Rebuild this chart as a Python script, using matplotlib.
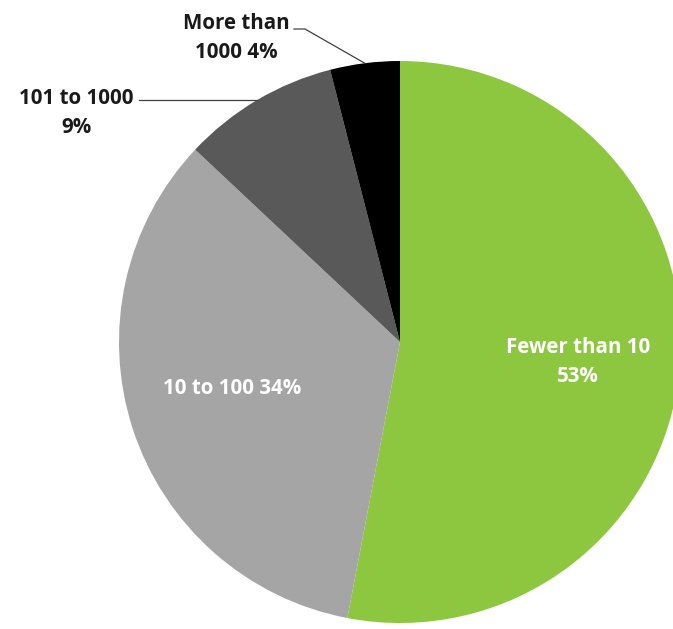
import numpy as np
import matplotlib.pyplot as plt

categories = ['Fewer than 10', '10 to 100', '101 to 1000', 'More than\n1000']
shares = [53, 34, 9, 4]
colors = ['#8DC63F', '#A5A5A5', '#595959', '#000000']

plt.rcParams['font.family'] = ['Open Sans', 'DejaVu Sans']

W, H = 673, 629
fig = plt.figure(figsize=(W / 100, H / 100), dpi=100)
ax = fig.add_axes([0, 0, 1, 1])

cx, cy, r = 400, H - 342, 281
wedges, _ = ax.pie(shares, colors=colors, startangle=90, counterclock=False,
                   center=(cx, cy), radius=r, frame=True,
                   wedgeprops=dict(linewidth=0))
ax.set_xlim(0, W)
ax.set_ylim(0, H)
ax.set_aspect('equal')
ax.axis('off')

fs = 14.8
ls = 1.55
# labels inside
ax.text(578, H - 362, f'{categories[0]}\n{shares[0]}%', color='white', fontsize=fs,
        fontweight='bold', ha='center', va='center', linespacing=ls)
ax.text(232, H - 388, f'{categories[1]} {shares[1]}%', color='white', fontsize=fs,
        fontweight='bold', ha='center', va='center')


def edge_point(w):
    mid = np.deg2rad((w.theta1 + w.theta2) / 2)
    return cx + r * np.cos(mid), cy + r * np.sin(mid)

# outside labels with leader lines
ax.text(76, H - 113, f'{categories[2]}\n{shares[2]}%', color='#1a1a1a', fontsize=fs,
        fontweight='bold', ha='center', va='center', linespacing=ls)
px, py = edge_point(wedges[2])
ax.plot([139, px], [py, py], color='#404040', lw=0.9)

ax.text(236, H - 38, f'{categories[3]} {shares[3]}%', color='#1a1a1a', fontsize=fs,
        fontweight='bold', ha='center', va='center', linespacing=ls)
px, py = edge_point(wedges[3])
ax.plot([294, 305, px], [H - 29, H - 29, py], color='#404040', lw=0.9)

fig.savefig('out.png', dpi=100)
